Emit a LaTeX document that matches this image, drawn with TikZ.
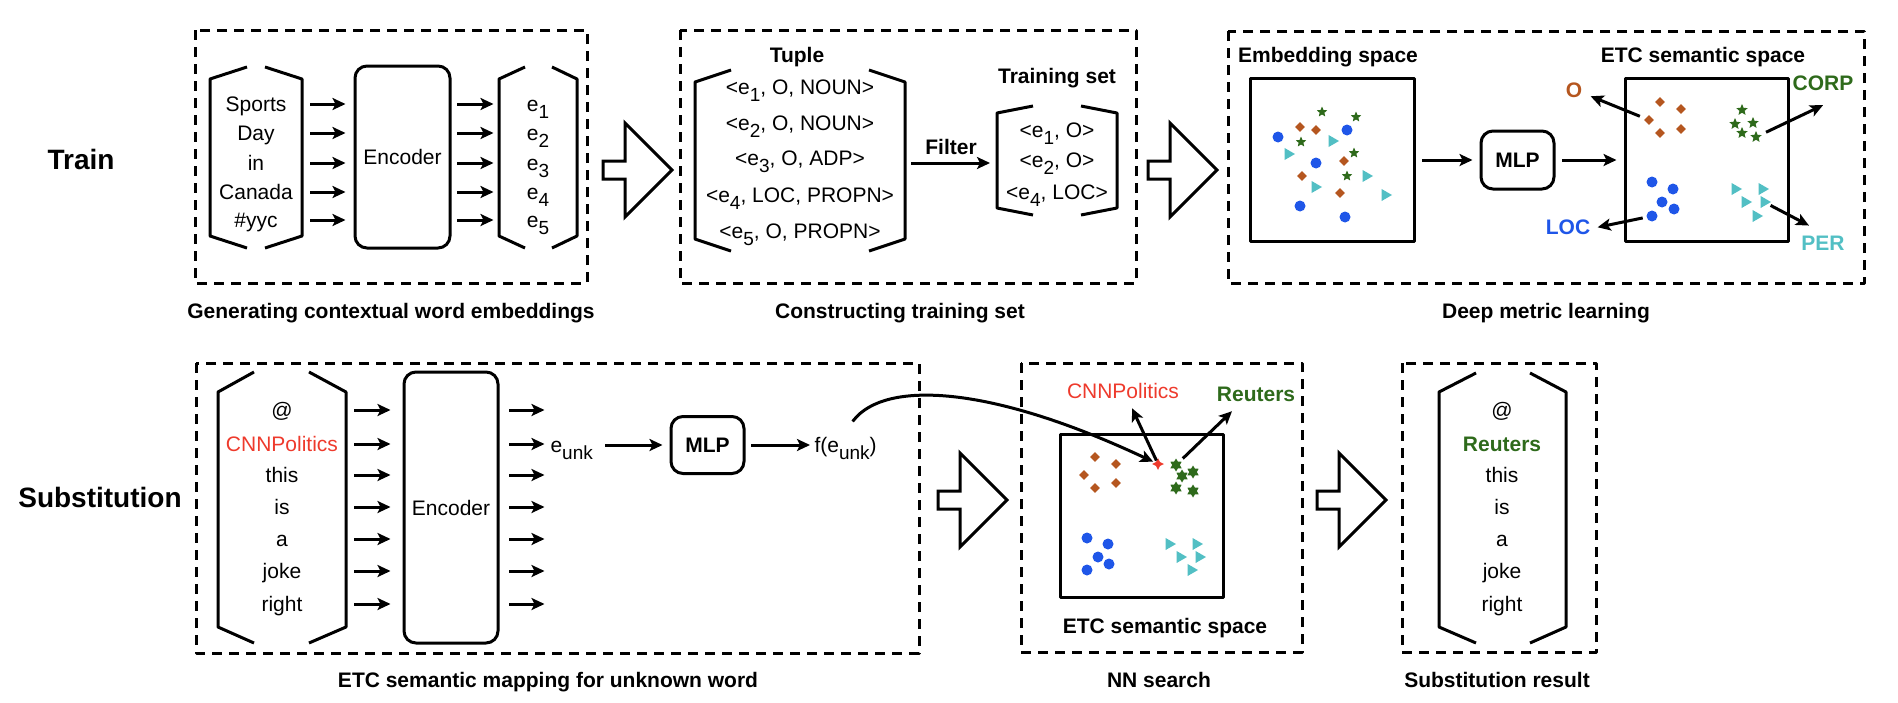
\documentclass[tikz,border=0pt]{standalone}
\usepackage{fontspec}
\setmainfont{Liberation Sans}
\usepackage{tikz}
\usetikzlibrary{arrows.meta,positioning,shapes.geometric,calc}

\definecolor{tagO}{HTML}{B5561F}
\definecolor{tagCORP}{HTML}{2E6A1B}
\definecolor{tagLOC}{HTML}{1F56E8}
\definecolor{tagPER}{HTML}{52BFC4}
\definecolor{unkRed}{HTML}{EE3A2C}

% word vector with lowered index
\newcommand{\esub}[1]{e\raisebox{-7pt}{\fontsize{19}{19}\selectfont #1}}

% bracket pair round a word list: outer-left x, tip-left x, tip-right x,
% outer-right x, tip top y, corner top y, corner bottom y, tip bottom y
\newcommand{\wordBracket}[8]{%
  \draw[line cap=butt] (#2,#5) -- (#1,#6) -- (#1,#7) -- (#2,#8);
  \draw[line cap=butt] (#3,#5) -- (#4,#6) -- (#4,#7) -- (#3,#8);}

% hollow block arrow between two stages
\newcommand{\hollowArrow}[2]{%
  \draw[line join=miter] (#1,#2-9) -- (#1+22,#2-9) -- (#1+22,#2-47)
  -- (#1+69,#2) -- (#1+22,#2+47) -- (#1+22,#2+9) -- (#1,#2+9) -- cycle;}

\begin{document}
\begin{tikzpicture}[
    x=1pt, y=-1pt,
    line cap=rect, line join=round, line width=3pt,
    >={Stealth[length=13pt,width=12pt,inset=3pt]},
    font=\fontsize{21}{25}\selectfont,
    dashbox/.style={dash pattern=on 10pt off 7pt, line cap=butt},
    solidbox/.style={draw, inner sep=0pt},
    roundbox/.style={draw, rounded corners=12pt, inner sep=0pt},
    word/.style={anchor=base, inner sep=0pt},
    boldword/.style={word, font=\fontsize{21}{25}\selectfont\bfseries},
    rowlabel/.style={word, font=\fontsize{28}{32}\selectfont\bfseries},
    link/.style={->, shorten <=8pt, shorten >=7pt},
    ptO/.style={diamond, fill=tagO, inner sep=0pt, minimum size=11pt},
    ptLOC/.style={circle, fill=tagLOC, inner sep=0pt, minimum size=11pt},
    ptPER/.style={regular polygon, regular polygon sides=3,
      shape border rotate=-90, fill=tagPER, inner sep=0pt,
      minimum size=14pt},
    ptCORP/.style={star, star points=5, star point ratio=2.2,
      fill=tagCORP, inner sep=0pt, minimum size=12pt},
    ptNear/.style={star, star points=6, star point ratio=1.7,
      fill=tagCORP, inner sep=0pt, minimum size=13pt},
    ptUnk/.style={star, star points=4, star point ratio=2.2,
      fill=unkRed, inner sep=0pt, minimum size=12pt}
  ]
  \useasboundingbox (0,0) rectangle (1898,702);

  % ------------------ Row labels ------------------
  \node[rowlabel] (train) at (81,169) {Train};
  \node[rowlabel] (subst) at (100,507) {Substitution};

  % ------------------ Generating contextual word embeddings ------------------
  \draw[dashbox] (195,30) rectangle (587,283);
  \wordBracket{210}{247}{265}{302}{67}{79}{236}{248}
  \wordBracket{499}{525}{552}{577}{67}{79}{236}{248}
  \node[roundbox, minimum width=95pt, minimum height=182pt] (enc1)
  at (402.5,157) {Encoder};
  \foreach \w/\y [count=\i] in {Sports/104, Day/133, in/163,
    Canada/192, \#yyc/220} {
    \node[word] (tok\i) at (256,\y+7.5) {\w};
    \node[word] (vec\i) at (538,\y+7.5) {\esub{\i}};
    \coordinate (row\i) at (0,\y);
    \draw[->] ($(enc1.west |- row\i)+(-42,0)$) --
    ($(enc1.west |- row\i)+(-8,0)$);
    \draw[->] ($(enc1.east |- row\i)+(7,0)$) --
    ($(enc1.east |- row\i)+(42,0)$);
  }
  \node[boldword] (capGen) at (391,318)
  {Generating contextual word embeddings};

  \hollowArrow{603}{170}

  % ------------------ Constructing training set ------------------
  \draw[dashbox] (680,30) rectangle (1136,283);
  \node[boldword] (tupleLbl) at (797,62.5) {Tuple};
  \wordBracket{695}{731}{869}{905}{70}{82}{239}{251}
  \node[word] (tup1) at (800,94.5) {<\esub{1}, O, NOUN>};
  \node[word] (tup2) at (800,130.5) {<\esub{2}, O, NOUN>};
  \node[word] (tup3) at (800,165.5) {<\esub{3}, O, ADP>};
  \node[word] (tup4) at (800,202.5) {<\esub{4}, LOC, PROPN>};
  \node[word] (tup5) at (800,238.5) {<\esub{5}, O, PROPN>};

  \coordinate (tupR) at (912,163);
  \coordinate (trainL) at (990,163);
  \draw[->] (tupR) -- node[above=3pt,
    font=\fontsize{21}{25}\selectfont\bfseries] (filterLbl) {Filter}
  (trainL);

  \node[boldword] (trainLbl) at (1057,83.5) {Training set};
  \wordBracket{997}{1033}{1081}{1117}{106}{113}{208}{215}
  \node[word] (trn1) at (1057,137.5) {<\esub{1}, O>};
  \node[word] (trn2) at (1057,167.5) {<\esub{2}, O>};
  \node[word] (trn3) at (1057,199.5) {<\esub{4}, LOC>};
  \node[boldword] (capTrain) at (900,318) {Constructing training set};

  \hollowArrow{1148}{170}

  % ------------------ Deep metric learning ------------------
  \draw[dashbox] (1228,31) rectangle (1864,283);
  \node[boldword] (embLbl) at (1328,62.5) {Embedding space};
  \node[boldword] (etcLbl) at (1703,62.5) {ETC semantic space};
  \node[solidbox, minimum width=164pt, minimum height=163pt] (embSpace)
  at (1332,160) {};
  \node[roundbox, minimum width=73pt, minimum height=58pt,
    font=\fontsize{21}{25}\selectfont\bfseries] (mlp1) at (1517.5,160) {MLP};
  \node[solidbox, minimum width=163pt, minimum height=163pt] (etcSpace)
  at (1706.5,160) {};
  \draw[link] (embSpace) -- (mlp1);
  \draw[link] (mlp1) -- (etcSpace);

  % mixed points before the mapping
  \foreach \px/\py in {1322/112, 1356/117, 1301/142, 1354/153, 1347/176}
  \node[ptCORP, minimum size=11pt] at (\px,\py) {};
  \foreach \px/\py in {1300/127, 1316/130, 1344/161, 1302/176, 1340/193}
  \node[ptO] at (\px,\py) {};
  \foreach \px/\py in {1278/137, 1347/130, 1316/163, 1300/206, 1345/217}
  \node[ptLOC] at (\px,\py) {};
  \foreach \px/\py in {1332/141, 1288/154, 1366/176, 1315/187, 1385/195}
  \node[ptPER] at (\px,\py) {};

  % clustered points after the mapping
  \foreach \px/\py [count=\k] in {1660/102, 1681/109, 1649/120, 1681/129,
    1660/133}
  \node[ptO] (etcO\k) at (\px,\py) {};
  \foreach \px/\py [count=\k] in {1742/110, 1735/124, 1753/123, 1742/133,
    1756/137}
  \node[ptCORP] (etcC\k) at (\px,\py) {};
  \foreach \px/\py [count=\k] in {1652/182, 1673/189, 1662/202, 1674/209,
    1652/216}
  \node[ptLOC] (etcL\k) at (\px,\py) {};
  \foreach \px/\py [count=\k] in {1735/189, 1762/189, 1745/202, 1764/202,
    1756/216}
  \node[ptPER] (etcP\k) at (\px,\py) {};

  \node[boldword, text=tagO] (lblO) at (1574,97.5) {O};
  \node[boldword, text=tagCORP] (lblCORP) at (1823,90.5) {CORP};
  \node[boldword, text=tagLOC] (lblLOC) at (1568,234.5) {LOC};
  \node[boldword, text=tagPER] (lblPER) at (1823,250.5) {PER};
  \draw[->, shorten <=6pt] (etcO3) -- ([xshift=7pt,yshift=-6pt]lblO.east);
  \draw[->, shorten <=5pt] (etcC5) -- ([yshift=-13pt]lblCORP.south);
  \draw[->, shorten <=4pt] (etcL5) -- ([xshift=6pt]lblLOC.east);
  \draw[->, shorten <=3pt] (etcP4) -- ([shift={(-14pt,9pt)}]lblPER.north);
  \node[boldword] (capDeep) at (1546,318) {Deep metric learning};

  % ------------------ ETC semantic mapping for unknown word ------------------
  \draw[dashbox] (196,363) rectangle (919,653);
  \wordBracket{218}{254}{309}{346}{372}{392}{627}{643}
  \node[roundbox, minimum width=94pt, minimum height=271pt] (enc2)
  at (451,507.5) {Encoder};
  \foreach \w/\y [count=\i] in {@/410, {\textcolor{unkRed}{CNNPolitics}}/444,
    this/475, is/507, a/539, joke/571, right/604} {
    \node[word] (src\i) at (282,\y+7.5) {\w};
    \coordinate (row\i) at (0,\y);
    \draw[->] ($(enc2.west |- row\i)+(-47,0)$) --
    ($(enc2.west |- row\i)+(-12,0)$);
    \draw[->] ($(enc2.east |- row\i)+(11,0)$) --
    ($(enc2.east |- row\i)+(45,0)$);
  }
  \node[word, anchor=base west] (eunk) at (549,452) {\esub{unk}};
  \node[roundbox, minimum width=73pt, minimum height=57pt,
    font=\fontsize{21}{25}\selectfont\bfseries] (mlp2) at (707.5,445) {MLP};
  \node[word, anchor=base west] (fe) at (813,452) {f(\esub{unk})};
  \draw[->, shorten <=12pt, shorten >=7pt] (eunk.east |- mlp2) -- (mlp2);
  \draw[->, shorten <=7pt, shorten >=3pt] (mlp2) -- (mlp2 -| fe.west);
  \node[boldword] (capMap) at (548,687)
  {ETC semantic mapping for unknown word};

  \hollowArrow{938}{500}

  % ------------------ NN search ------------------
  \draw[dashbox] (1021,363) rectangle (1302,652);
  \node[solidbox, minimum width=163pt, minimum height=163pt] (nnSpace)
  at (1141.5,515.5) {};
  \node[word, text=unkRed] (cnnLbl) at (1123,398.5) {CNNPolitics};
  \node[boldword, text=tagCORP] (reutLbl) at (1256,401.5) {Reuters};
  \foreach \px/\py in {1095/457, 1116/464, 1084/475, 1116/483, 1095/488}
  \node[ptO] at (\px,\py) {};
  \foreach \px/\py [count=\k] in {1176/465, 1193/472, 1182/476, 1176/488,
    1193/491}
  \node[ptNear] (nnC\k) at (\px,\py) {};
  \foreach \px/\py in {1087/538, 1108/544, 1098/557, 1109/564, 1087/570}
  \node[ptLOC] at (\px,\py) {};
  \foreach \px/\py in {1169/544, 1196/544, 1180/557, 1199/557, 1191/570}
  \node[ptPER] at (\px,\py) {};
  \node[ptUnk] (cnnPt) at (1158,464) {};
  \draw[->] (cnnPt) -- ([shift={(9pt,-8pt)}]cnnLbl.south);
  \draw[->, shorten <=4pt] (nnC1) -- ([shift={(-24pt,-8pt)}]reutLbl.south);
  \node[boldword] (nnLbl) at (1165,633.5) {ETC semantic space};
  \node[boldword] (capNN) at (1159,687) {NN search};

  % mapped vector goes to its place in the semantic space
  \draw[->] ([shift={(8pt,15pt)}]fe.north)
  .. controls (885,380) and (990,385) .. (cnnPt);

  \hollowArrow{1317}{500}

  % ------------------ Substitution result ------------------
  \draw[dashbox] (1402,363) rectangle (1596,652);
  \wordBracket{1439}{1476}{1530}{1566}{373}{392}{627}{643}
  \foreach \w/\y [count=\i] in {@/410,
    {\textcolor{tagCORP}{\bfseries Reuters}}/444,
    this/475, is/507, a/539, joke/571, right/604}
  \node[word] (res\i) at (1502,\y+7.5) {\w};
  \node[boldword] (capRes) at (1497,687) {Substitution result};

\end{tikzpicture}
\end{document}
